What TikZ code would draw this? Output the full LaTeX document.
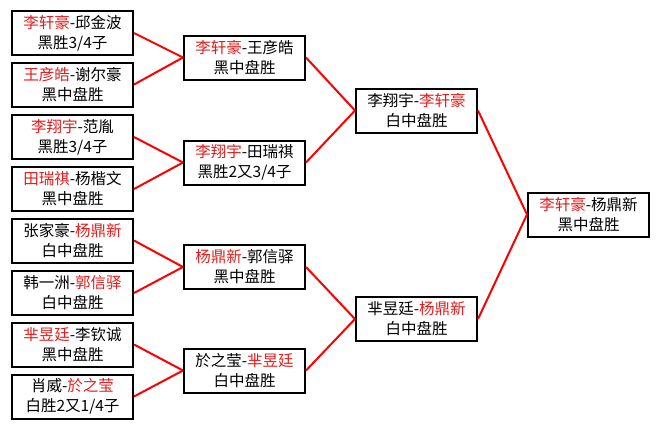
\documentclass[tikz,border=0pt]{standalone}
\usepackage{fontspec}
\newfontfamily\cjk{Noto Sans CJK SC}
\definecolor{winred}{RGB}{228,28,28}
\newcommand{\win}[1]{\textcolor{winred}{#1}}
\tikzset{game/.style={draw,line width=2pt,minimum width=121pt,minimum height=44pt,inner sep=2pt,align=center,font=\cjk\fontsize{15.5}{20}\selectfont}}
\begin{document}
\begin{tikzpicture}[x=1pt,y=-1pt]
	\useasboundingbox (0,0) rectangle (660,429);
	\node[game] (m1) at (72.5,33) {\win{李轩豪}-邱金波\\黑胜3/4子};
	\node[game] (m2) at (72.5,84.5) {\win{王彦皓}-谢尔豪\\黑中盘胜};
	\node[game] (m3) at (72.5,137) {\win{李翔宇}-范胤\\黑胜3/4子};
	\node[game] (m4) at (72.5,189) {\win{田瑞祺}-杨楷文\\黑中盘胜};
	\node[game] (m5) at (72.5,240.5) {张家豪-\win{杨鼎新}\\白中盘胜};
	\node[game] (m6) at (72.5,293) {韩一洲-\win{郭信驿}\\白中盘胜};
	\node[game] (m7) at (72.5,344.5) {\win{芈昱廷}-李钦诚\\黑中盘胜};
	\node[game] (m8) at (72.5,396.5) {肖威-\win{於之莹}\\白胜2又1/4子};

	\node[game] (q1) at (244.5,57.5) {\win{李轩豪}-王彦皓\\黑中盘胜};
	\node[game] (q2) at (244.5,162.5) {\win{李翔宇}-田瑞祺\\黑胜2又3/4子};
	\node[game] (q3) at (244.5,267) {\win{杨鼎新}-郭信驿\\黑中盘胜};
	\node[game] (q4) at (244.5,370.5) {於之莹-\win{芈昱廷}\\白中盘胜};

	\node[game] (s1) at (416.5,110.5) {李翔宇-\win{李轩豪}\\白中盘胜};
	\node[game] (s2) at (416.5,319) {芈昱廷-\win{杨鼎新}\\白中盘胜};

	\node[game] (f) at (588.5,214.5) {\win{李轩豪}-杨鼎新\\黑中盘胜};

	\draw[red,line width=2pt] (m1.east) -- (q1.west);
	\draw[red,line width=2pt] (m2.east) -- (q1.west);
	\draw[red,line width=2pt] (m3.east) -- (q2.west);
	\draw[red,line width=2pt] (m4.east) -- (q2.west);
	\draw[red,line width=2pt] (m5.east) -- (q3.west);
	\draw[red,line width=2pt] (m6.east) -- (q3.west);
	\draw[red,line width=2pt] (m7.east) -- (q4.west);
	\draw[red,line width=2pt] (m8.east) -- (q4.west);
	\draw[red,line width=2pt] (q1.east) -- (s1.west);
	\draw[red,line width=2pt] (q2.east) -- (s1.west);
	\draw[red,line width=2pt] (q3.east) -- (s2.west);
	\draw[red,line width=2pt] (q4.east) -- (s2.west);
	\draw[red,line width=2pt] (s1.east) -- (f.west);
	\draw[red,line width=2pt] (s2.east) -- (f.west);
\end{tikzpicture}
\end{document}
